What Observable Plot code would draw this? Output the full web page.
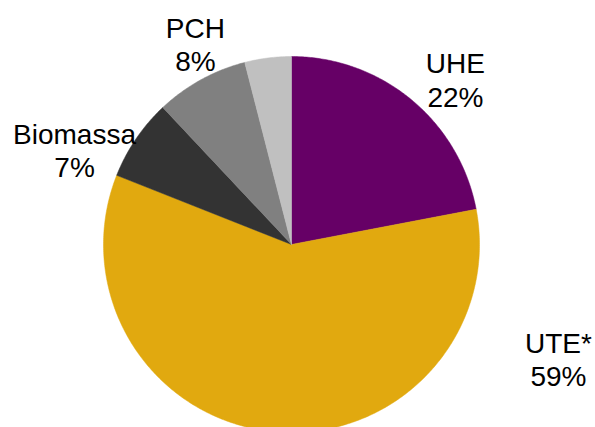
<!DOCTYPE html>
<html>
<head>
<meta charset="utf-8">
<script src="https://cdn.jsdelivr.net/npm/d3@7"></script>
<script src="https://cdn.jsdelivr.net/npm/@observablehq/plot@0.6"></script>
<style>
  html, body { margin: 0; padding: 0; background: #fff; }
  #chart svg { display: block; }
</style>
</head>
<body>
<div id="chart"></div>
<script>
// Data
const categories = ["UHE", "UTE*", "Biomassa", "PCH", "Outros"];
const shares = [22, 59, 7, 8, 4];
const labels = ["UHE\n22%", "UTE*\n59%", "Biomassa\n7%", "PCH\n8%", ""];
const colors = ["#660066", "#E1A90F", "#333333", "#808080", "#C0C0C0"];
// label anchor offsets, in units of the pie radius (x right, y up)
const labelX = [0.872, 1.420, -1.154, -0.511, 0];
const labelY = [0.878, -0.609, 0.505, 1.066, 0];

const W = 595, H = 427;
const cx = 291, cy = 244, R = 188;

const pie = d3.pie().sort(null).value(d => d.value).startAngle(0).endAngle(2 * Math.PI);
const rows = categories.map((c, i) => ({key: c, value: shares[i], color: colors[i], label: labels[i], lx: labelX[i], ly: labelY[i]}));
const arcs = pie(rows);

// polygon points for each slice (unit radius, angle clockwise from top)
const pts = [];
for (const a of arcs) {
  pts.push({key: a.data.key, x: 0, y: 0, color: a.data.color});
  const n = Math.max(2, Math.ceil((a.endAngle - a.startAngle) / 0.01));
  for (let k = 0; k <= n; k++) {
    const t = a.startAngle + (a.endAngle - a.startAngle) * k / n;
    pts.push({key: a.data.key, x: Math.sin(t), y: Math.cos(t), color: a.data.color});
  }
  pts.push({key: a.data.key, x: 0, y: 0, color: a.data.color});
}

const chart = Plot.plot({
  width: W,
  height: H,
  margin: 0,
  x: {domain: [-cx / R, (W - cx) / R], range: [0, W], axis: null},
  y: {domain: [-(H - cy) / R, cy / R], range: [H, 0], axis: null},
  style: {background: "#fff"},
  marks: [
    Plot.line(pts, {x: "x", y: "y", z: "key", fill: "color", stroke: "color", strokeWidth: 0.5, curve: "linear"}),
    Plot.text(rows.filter(d => d.label), {
      x: "lx", y: "ly", text: "label",
      fontSize: 28, fontFamily: "Liberation Sans, Arial, sans-serif",
      lineHeight: 1.18, fill: "#000", textAnchor: "middle", lineAnchor: "middle"
    })
  ]
});
document.getElementById("chart").appendChild(chart);
</script>
</body>
</html>
